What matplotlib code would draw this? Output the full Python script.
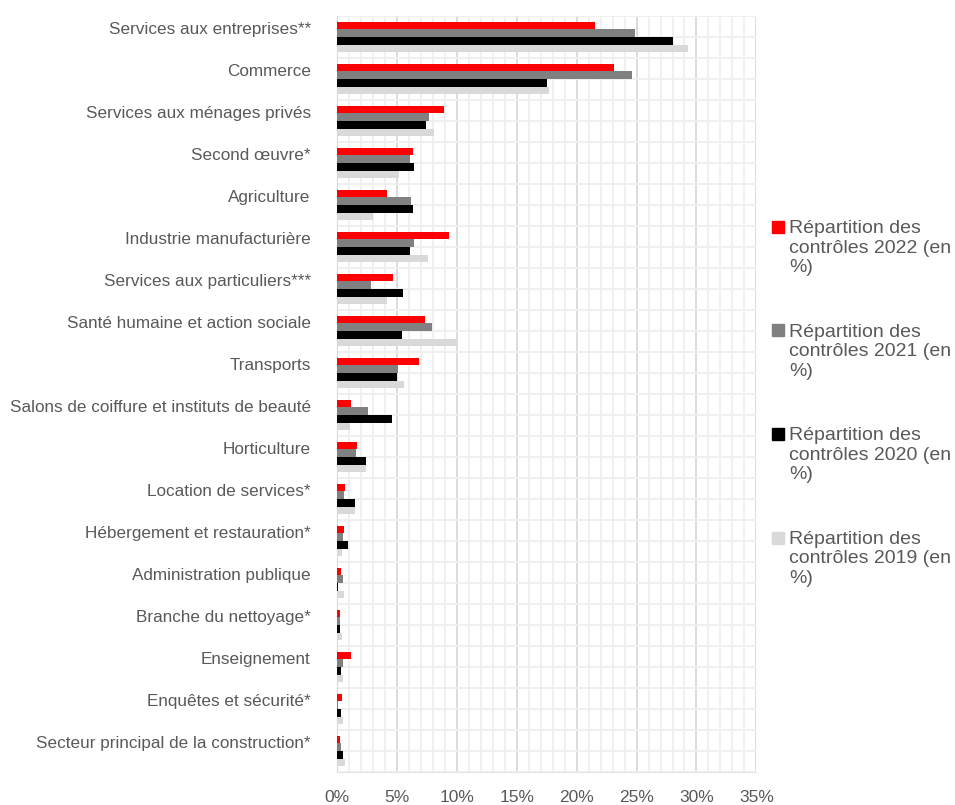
import numpy as np
import matplotlib
matplotlib.use('Agg')
import matplotlib.pyplot as plt
from matplotlib.patches import Rectangle
from matplotlib.ticker import MultipleLocator, FuncFormatter

plt.rcParams['font.family'] = ['Liberation Sans', 'DejaVu Sans']

categories = [
    'Services aux entreprises**',
    'Commerce',
    'Services aux ménages privés',
    'Second œuvre*',
    'Agriculture',
    'Industrie manufacturière',
    'Services aux particuliers***',
    'Santé humaine et action sociale',
    'Transports',
    'Salons de coiffure et instituts de beauté',
    'Horticulture',
    'Location de services*',
    'Hébergement et restauration*',
    'Administration publique',
    'Branche du nettoyage*',
    'Enseignement',
    'Enquêtes et sécurité*',
    'Secteur principal de la construction*',
]

# values in %
v2022 = [21.5, 23.1, 8.9, 6.3, 4.2, 9.3, 4.7, 7.3, 6.8, 1.2, 1.7, 0.67, 0.55, 0.36, 0.2, 1.2, 0.42, 0.22]
v2021 = [24.9, 24.6, 7.7, 6.05, 6.2, 6.4, 2.8, 7.9, 5.1, 2.6, 1.6, 0.55, 0.5, 0.5, 0.28, 0.5, 0.05, 0.33]
v2020 = [28.05, 17.55, 7.4, 6.45, 6.3, 6.05, 5.5, 5.4, 5.0, 4.55, 2.4, 1.47, 0.92, 0.05, 0.28, 0.33, 0.36, 0.5]
v2019 = [29.3, 17.7, 8.05, 5.2, 3.0, 7.6, 4.2, 9.95, 5.6, 1.1, 2.4, 1.47, 0.42, 0.55, 0.44, 0.5, 0.47, 0.64]

series = [
    ('Répartition des\ncontrôles 2022 (en\n%)', v2022, '#ff0000'),
    ('Répartition des\ncontrôles 2021 (en\n%)', v2021, '#808080'),
    ('Répartition des\ncontrôles 2020 (en\n%)', v2020, '#000000'),
    ('Répartition des\ncontrôles 2019 (en\n%)', v2019, '#d9d9d9'),
]

text_col = '#595959'
W, H = 955, 805

fig = plt.figure(figsize=(W / 100, H / 100), dpi=100)
ax = fig.add_axes([0.353, 0.041, 0.439, 0.939])

y = np.arange(len(categories))
h = 0.183
for i, (lab, vals, col) in enumerate(series):
    ax.barh(y + (i - 1.5) * h, vals, height=h, color=col, label=lab, zorder=3)

ax.set_xlim(0, 35)
ax.set_ylim(len(categories) - 0.5, -0.5)
ax.xaxis.set_major_locator(MultipleLocator(5))
ax.xaxis.set_minor_locator(MultipleLocator(1))
ax.xaxis.set_major_formatter(FuncFormatter(lambda v, p: f'{v:.0f}%'))
# labels sit a little above the group centre, as in the original
ax.set_yticks(y - 0.22)
ax.set_yticklabels(categories)
ax.set_yticks(np.arange(-0.5, len(categories), 0.5), minor=True)

ax.grid(True, axis='x', which='major', color='#d9d9d9', lw=1.3, zorder=0)
ax.grid(True, axis='x', which='minor', color='#efefef', lw=1.3, zorder=0)
ax.grid(True, axis='y', which='minor', color='#efefef', lw=1.3, zorder=0)

for s in ['top', 'right']:
    ax.spines[s].set_visible(False)
ax.spines['left'].set_color('#d9d9d9')
ax.spines['bottom'].set_color('#e6e6e6')
ax.tick_params(axis='both', which='both', length=0, colors=text_col)
ax.tick_params(axis='y', pad=19, labelsize=12.3)
ax.tick_params(axis='x', pad=13, labelsize=12.5)

# legend drawn by hand: marker beside first line of each wrapped label
for i, (lab, vals, col) in enumerate(series):
    yc = 227 + i * 103.5
    fig.patches.append(Rectangle((772 / W, 1 - (yc + 6) / H), 12 / W, 12 / H,
                                 transform=fig.transFigure, color=col))
    fig.text(789 / W, 1 - (yc - 7) / H, lab, ha='left', va='top',
             fontsize=14, color=text_col, linespacing=1.2)

fig.savefig('out.png', dpi=100)
